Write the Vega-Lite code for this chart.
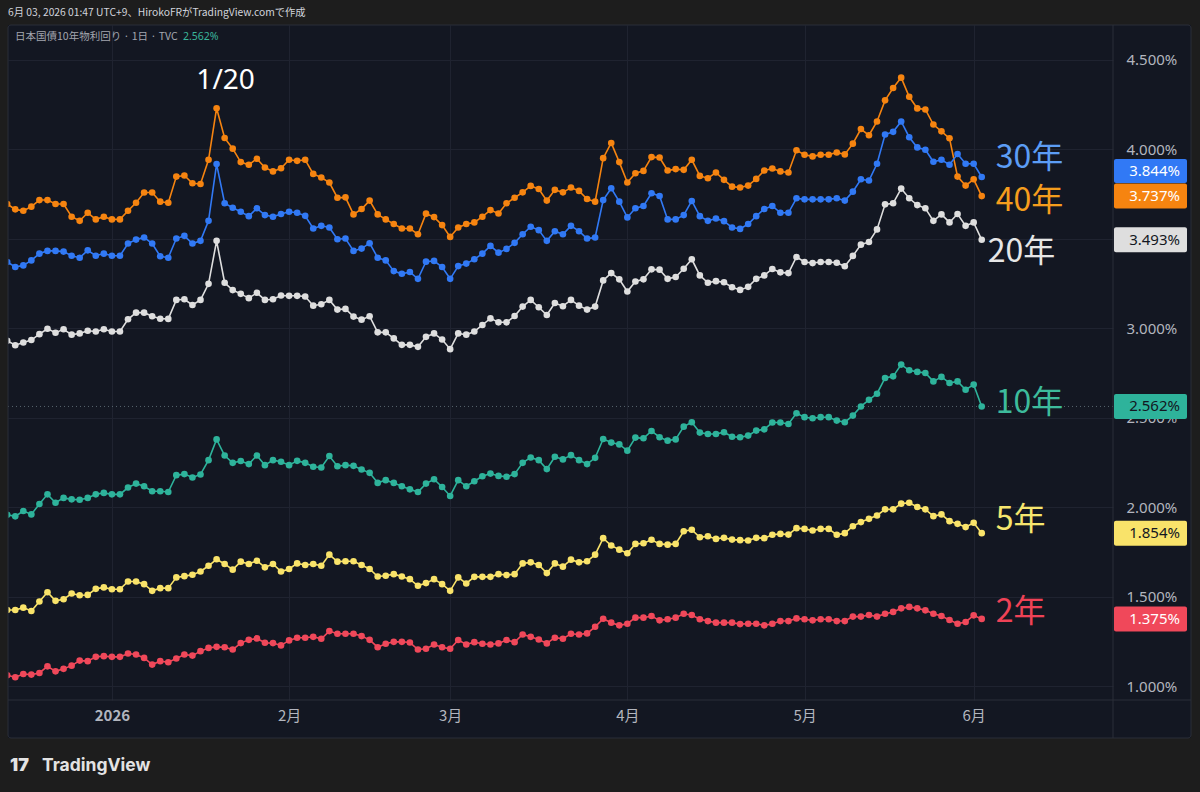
{
  "$schema": "https://vega.github.io/schema/vega-lite/v6.json",
  "width": 1105,
  "height": 675,
  "autosize": {"type": "none"},
  "padding": {"left": 8, "top": 25, "right": 87, "bottom": 92},
  "background": "#131722",
  "config": {
    "view": {"stroke": null},
    "locale": {"number": {"decimal": ".", "thousands": ",", "grouping": [3], "currency": ["", "%"]}},
    "text": {"font": "Noto Sans"}
  },
  "layer": [
    {
      "data": {
        "values": [
          {"i":0,"2年":1.060,"5年":1.425,"10年":1.957,"20年":2.929,"30年":3.369,"40年":3.693},
          {"i":1,"2年":1.049,"5年":1.425,"10年":1.948,"20年":2.904,"30年":3.341,"40年":3.663},
          {"i":2,"2年":1.067,"5年":1.438,"10年":1.978,"20年":2.919,"30年":3.350,"40年":3.655},
          {"i":3,"2年":1.064,"5年":1.419,"10年":1.959,"20年":2.933,"30年":3.378,"40年":3.678},
          {"i":4,"2年":1.073,"5年":1.472,"10年":2.017,"20年":2.966,"30年":3.416,"40年":3.715},
          {"i":5,"2年":1.110,"5年":1.524,"10年":2.071,"20年":2.996,"30年":3.431,"40年":3.715},
          {"i":6,"2年":1.082,"5年":1.476,"10年":2.024,"20年":2.974,"30年":3.431,"40年":3.693},
          {"i":7,"2年":1.096,"5年":1.485,"10年":2.051,"20年":2.993,"30年":3.427,"40年":3.693},
          {"i":8,"2年":1.114,"5年":1.517,"10年":2.043,"20年":2.963,"30年":3.404,"40年":3.622},
          {"i":9,"2年":1.142,"5年":1.507,"10年":2.041,"20年":2.970,"30年":3.393,"40年":3.599},
          {"i":10,"2年":1.139,"5年":1.509,"10年":2.051,"20年":2.985,"30年":3.434,"40年":3.644},
          {"i":11,"2年":1.163,"5年":1.543,"10年":2.071,"20年":2.981,"30年":3.404,"40年":3.607},
          {"i":12,"2年":1.167,"5年":1.551,"10年":2.079,"20年":2.993,"30年":3.416,"40年":3.622},
          {"i":13,"2年":1.163,"5年":1.541,"10年":2.071,"20年":2.981,"30年":3.404,"40年":3.607},
          {"i":14,"2年":1.163,"5年":1.541,"10年":2.071,"20年":2.981,"30年":3.404,"40年":3.607},
          {"i":15,"2年":1.182,"5年":1.584,"10年":2.109,"20年":3.049,"30年":3.472,"40年":3.655},
          {"i":16,"2年":1.176,"5年":1.584,"10年":2.131,"20年":3.086,"30年":3.494,"40年":3.700},
          {"i":17,"2年":1.157,"5年":1.569,"10年":2.116,"20年":3.086,"30年":3.506,"40年":3.757},
          {"i":18,"2年":1.120,"5年":1.532,"10年":2.088,"20年":3.066,"30年":3.472,"40年":3.757},
          {"i":19,"2年":1.139,"5年":1.547,"10年":2.088,"20年":3.052,"30年":3.401,"40年":3.706},
          {"i":20,"2年":1.133,"5年":1.547,"10年":2.084,"20年":3.051,"30年":3.393,"40年":3.700},
          {"i":21,"2年":1.154,"5年":1.607,"10年":2.178,"20年":3.157,"30年":3.500,"40年":3.846},
          {"i":22,"2年":1.176,"5年":1.614,"10年":2.184,"20年":3.161,"30年":3.515,"40年":3.852},
          {"i":23,"2年":1.170,"5年":1.622,"10年":2.165,"20年":3.129,"30年":3.472,"40年":3.809},
          {"i":24,"2年":1.195,"5年":1.640,"10年":2.182,"20年":3.157,"30年":3.487,"40年":3.805},
          {"i":25,"2年":1.213,"5年":1.672,"10年":2.262,"20年":3.247,"30年":3.599,"40年":3.940},
          {"i":26,"2年":1.219,"5年":1.708,"10年":2.378,"20年":3.487,"30年":3.916,"40年":4.228},
          {"i":27,"2年":1.217,"5年":1.682,"10年":2.288,"20年":3.253,"30年":3.697,"40年":4.062},
          {"i":28,"2年":1.204,"5年":1.650,"10年":2.247,"20年":3.212,"30年":3.672,"40年":4.002},
          {"i":29,"2年":1.240,"5年":1.695,"10年":2.257,"20年":3.191,"30年":3.650,"40年":3.927},
          {"i":30,"2年":1.258,"5年":1.682,"10年":2.240,"20年":3.167,"30年":3.625,"40年":3.912},
          {"i":31,"2年":1.266,"5年":1.700,"10年":2.288,"20年":3.197,"30年":3.669,"40年":3.946},
          {"i":32,"2年":1.242,"5年":1.663,"10年":2.234,"20年":3.157,"30年":3.631,"40年":3.897},
          {"i":33,"2年":1.240,"5年":1.682,"10年":2.262,"20年":3.161,"30年":3.622,"40年":3.875},
          {"i":34,"2年":1.227,"5年":1.640,"10年":2.253,"20年":3.182,"30年":3.637,"40年":3.893},
          {"i":35,"2年":1.255,"5年":1.654,"10年":2.234,"20年":3.180,"30年":3.650,"40年":3.940},
          {"i":36,"2年":1.270,"5年":1.685,"10年":2.258,"20年":3.180,"30年":3.644,"40年":3.934},
          {"i":37,"2年":1.270,"5年":1.676,"10年":2.247,"20年":3.176,"30年":3.627,"40年":3.940},
          {"i":38,"2年":1.275,"5年":1.682,"10年":2.225,"20年":3.125,"30年":3.556,"40年":3.861},
          {"i":39,"2年":1.264,"5年":1.672,"10年":2.221,"20年":3.133,"30年":3.571,"40年":3.841},
          {"i":40,"2年":1.307,"5年":1.734,"10年":2.285,"20年":3.157,"30年":3.562,"40年":3.813},
          {"i":41,"2年":1.292,"5年":1.695,"10年":2.228,"20年":3.103,"30年":3.496,"40年":3.728},
          {"i":42,"2年":1.292,"5年":1.697,"10年":2.234,"20年":3.107,"30年":3.500,"40年":3.730},
          {"i":43,"2年":1.292,"5年":1.697,"10年":2.230,"20年":3.064,"30年":3.431,"40年":3.635},
          {"i":44,"2年":1.279,"5年":1.676,"10年":2.210,"20年":3.047,"30年":3.444,"40年":3.665},
          {"i":45,"2年":1.258,"5年":1.654,"10年":2.191,"20年":3.066,"30年":3.474,"40年":3.712},
          {"i":46,"2年":1.217,"5年":1.612,"10年":2.135,"20年":2.976,"30年":3.393,"40年":3.635},
          {"i":47,"2年":1.236,"5年":1.616,"10年":2.150,"20年":2.976,"30年":3.378,"40年":3.607},
          {"i":48,"2年":1.247,"5年":1.625,"10年":2.135,"20年":2.942,"30年":3.318,"40年":3.581},
          {"i":49,"2年":1.247,"5年":1.612,"10年":2.116,"20年":2.906,"30年":3.303,"40年":3.556},
          {"i":50,"2年":1.243,"5年":1.597,"10年":2.099,"20年":2.906,"30年":3.313,"40年":3.556},
          {"i":51,"2年":1.204,"5年":1.560,"10年":2.084,"20年":2.895,"30年":3.275,"40年":3.524},
          {"i":52,"2年":1.208,"5年":1.575,"10年":2.131,"20年":2.951,"30年":3.371,"40年":3.639},
          {"i":53,"2年":1.232,"5年":1.597,"10年":2.155,"20年":2.970,"30年":3.375,"40年":3.620},
          {"i":54,"2年":1.217,"5年":1.569,"10年":2.112,"20年":2.936,"30年":3.341,"40年":3.575},
          {"i":55,"2年":1.208,"5年":1.532,"10年":2.062,"20年":2.882,"30年":3.275,"40年":3.509},
          {"i":56,"2年":1.257,"5年":1.607,"10年":2.150,"20年":2.970,"30年":3.346,"40年":3.562},
          {"i":57,"2年":1.232,"5年":1.573,"10年":2.116,"20年":2.963,"30年":3.360,"40年":3.581},
          {"i":58,"2年":1.245,"5年":1.610,"10年":2.144,"20年":2.981,"30年":3.384,"40年":3.590},
          {"i":59,"2年":1.236,"5年":1.610,"10年":2.172,"20年":3.017,"30年":3.416,"40年":3.622},
          {"i":60,"2年":1.232,"5年":1.610,"10年":2.187,"20年":3.054,"30年":3.459,"40年":3.659},
          {"i":61,"2年":1.238,"5年":1.625,"10年":2.174,"20年":3.032,"30年":3.421,"40年":3.640},
          {"i":62,"2年":1.257,"5年":1.620,"10年":2.169,"20年":3.032,"30年":3.442,"40年":3.697},
          {"i":63,"2年":1.245,"5年":1.625,"10年":2.184,"20年":3.067,"30年":3.476,"40年":3.728},
          {"i":64,"2年":1.288,"5年":1.685,"10年":2.247,"20年":3.120,"30年":3.524,"40年":3.758},
          {"i":65,"2年":1.275,"5年":1.691,"10年":2.277,"20年":3.157,"30年":3.566,"40年":3.794},
          {"i":66,"2年":1.260,"5年":1.676,"10年":2.262,"20年":3.116,"30年":3.547,"40年":3.777},
          {"i":67,"2年":1.238,"5年":1.631,"10年":2.212,"20年":3.073,"30年":3.487,"40年":3.712},
          {"i":68,"2年":1.270,"5年":1.685,"10年":2.281,"20年":3.140,"30年":3.541,"40年":3.772},
          {"i":69,"2年":1.264,"5年":1.667,"10年":2.266,"20年":3.122,"30年":3.524,"40年":3.758},
          {"i":70,"2年":1.292,"5年":1.706,"10年":2.290,"20年":3.157,"30年":3.571,"40年":3.785},
          {"i":71,"2年":1.288,"5年":1.691,"10年":2.262,"20年":3.125,"30年":3.541,"40年":3.766},
          {"i":72,"2年":1.294,"5年":1.697,"10年":2.240,"20年":3.103,"30年":3.500,"40年":3.721},
          {"i":73,"2年":1.331,"5年":1.734,"10年":2.275,"20年":3.120,"30年":3.506,"40年":3.706},
          {"i":74,"2年":1.376,"5年":1.826,"10年":2.380,"20年":3.266,"30年":3.715,"40年":3.949},
          {"i":75,"2年":1.354,"5年":1.785,"10年":2.360,"20年":3.307,"30年":3.781,"40年":4.034},
          {"i":76,"2年":1.339,"5年":1.762,"10年":2.350,"20年":3.272,"30年":3.706,"40年":3.927},
          {"i":77,"2年":1.348,"5年":1.742,"10年":2.315,"20年":3.204,"30年":3.618,"40年":3.813},
          {"i":78,"2年":1.382,"5年":1.794,"10年":2.388,"20年":3.260,"30年":3.669,"40年":3.865},
          {"i":79,"2年":1.382,"5年":1.798,"10年":2.384,"20年":3.272,"30年":3.682,"40年":3.878},
          {"i":80,"2年":1.391,"5年":1.817,"10年":2.425,"20年":3.328,"30年":3.753,"40年":3.955},
          {"i":81,"2年":1.367,"5年":1.794,"10年":2.390,"20年":3.326,"30年":3.738,"40年":3.953},
          {"i":82,"2年":1.373,"5年":1.790,"10年":2.371,"20年":3.275,"30年":3.607,"40年":3.880},
          {"i":83,"2年":1.382,"5年":1.794,"10年":2.378,"20年":3.285,"30年":3.607,"40年":3.888},
          {"i":84,"2年":1.404,"5年":1.865,"10年":2.449,"20年":3.331,"30年":3.631,"40年":3.884},
          {"i":85,"2年":1.397,"5年":1.873,"10年":2.474,"20年":3.384,"30年":3.710,"40年":3.940},
          {"i":86,"2年":1.373,"5年":1.831,"10年":2.416,"20年":3.294,"30年":3.625,"40年":3.850},
          {"i":87,"2年":1.363,"5年":1.837,"10年":2.408,"20年":3.253,"30年":3.599,"40年":3.837},
          {"i":88,"2年":1.354,"5年":1.822,"10年":2.408,"20年":3.262,"30年":3.612,"40年":3.869},
          {"i":89,"2年":1.354,"5年":1.828,"10年":2.418,"20年":3.256,"30年":3.597,"40年":3.828},
          {"i":90,"2年":1.354,"5年":1.818,"10年":2.393,"20年":3.228,"30年":3.562,"40年":3.790},
          {"i":91,"2年":1.346,"5年":1.815,"10年":2.390,"20年":3.213,"30年":3.554,"40年":3.785},
          {"i":92,"2年":1.348,"5年":1.813,"10年":2.399,"20年":3.230,"30年":3.581,"40年":3.796},
          {"i":93,"2年":1.348,"5年":1.828,"10年":2.427,"20年":3.275,"30年":3.625,"40年":3.833},
          {"i":94,"2年":1.339,"5年":1.826,"10年":2.434,"20年":3.294,"30年":3.665,"40年":3.880},
          {"i":95,"2年":1.348,"5年":1.845,"10年":2.472,"20年":3.330,"30年":3.682,"40年":3.891},
          {"i":96,"2年":1.363,"5年":1.850,"10年":2.472,"20年":3.311,"30年":3.644,"40年":3.875},
          {"i":97,"2年":1.363,"5年":1.846,"10年":2.464,"20年":3.307,"30年":3.644,"40年":3.869},
          {"i":98,"2年":1.378,"5年":1.882,"10年":2.524,"20年":3.397,"30年":3.725,"40年":3.993},
          {"i":99,"2年":1.373,"5年":1.878,"10年":2.502,"20年":3.369,"30年":3.719,"40年":3.968},
          {"i":100,"2年":1.367,"5年":1.869,"10年":2.496,"20年":3.363,"30年":3.719,"40年":3.959},
          {"i":101,"2年":1.373,"5年":1.878,"10年":2.502,"20年":3.369,"30年":3.719,"40年":3.968},
          {"i":102,"2年":1.373,"5年":1.878,"10年":2.502,"20年":3.369,"30年":3.719,"40年":3.968},
          {"i":103,"2年":1.363,"5年":1.845,"10年":2.483,"20年":3.365,"30年":3.725,"40年":3.981},
          {"i":104,"2年":1.363,"5年":1.854,"10年":2.474,"20年":3.345,"30年":3.712,"40年":3.970},
          {"i":105,"2年":1.388,"5年":1.893,"10年":2.511,"20年":3.403,"30年":3.762,"40年":4.030},
          {"i":106,"2年":1.388,"5年":1.916,"10年":2.562,"20年":3.466,"30年":3.831,"40年":4.112},
          {"i":107,"2年":1.397,"5年":1.934,"10年":2.599,"20年":3.481,"30年":3.824,"40年":4.077},
          {"i":108,"2年":1.388,"5年":1.953,"10年":2.633,"20年":3.551,"30年":3.918,"40年":4.154},
          {"i":109,"2年":1.404,"5年":1.987,"10年":2.721,"20年":3.691,"30年":4.081,"40年":4.272},
          {"i":110,"2年":1.414,"5年":1.987,"10年":2.730,"20年":3.697,"30年":4.096,"40年":4.341},
          {"i":111,"2年":1.434,"5年":2.019,"10年":2.796,"20年":3.779,"30年":4.154,"40年":4.399},
          {"i":112,"2年":1.442,"5年":2.024,"10年":2.764,"20年":3.725,"30年":4.066,"40年":4.292},
          {"i":113,"2年":1.434,"5年":2.000,"10年":2.755,"20年":3.687,"30年":4.009,"40年":4.227},
          {"i":114,"2年":1.423,"5年":1.987,"10年":2.749,"20年":3.669,"30年":3.996,"40年":4.221},
          {"i":115,"2年":1.404,"5年":1.949,"10年":2.702,"20年":3.599,"30年":3.929,"40年":4.137},
          {"i":116,"2年":1.391,"5年":1.959,"10年":2.727,"20年":3.635,"30年":3.940,"40年":4.099},
          {"i":117,"2年":1.369,"5年":1.921,"10年":2.693,"20年":3.590,"30年":3.912,"40年":4.060},
          {"i":118,"2年":1.348,"5年":1.906,"10年":2.702,"20年":3.637,"30年":3.972,"40年":3.846},
          {"i":119,"2年":1.358,"5年":1.888,"10年":2.655,"20年":3.571,"30年":3.918,"40年":3.796},
          {"i":120,"2年":1.395,"5年":1.912,"10年":2.684,"20年":3.590,"30年":3.918,"40年":3.831},
          {"i":121,"2年":1.375,"5年":1.854,"10年":2.562,"20年":3.493,"30年":3.844,"40年":3.737}
        ]
      },
      "transform": [{"fold": ["40年", "30年", "20年", "10年", "5年", "2年"], "as": ["s", "v"]}],
      "layer": [
        {
          "transform": [{"filter": "datum.i === 121 && datum.s === '10年'"}],
          "mark": {"type": "rule", "color": "#58656e", "strokeWidth": 1, "strokeDash": [1, 3]},
          "encoding": {"y": {"field": "v", "type": "quantitative"}}
        },
        {
          "mark": {"type": "line", "strokeWidth": 1.6},
          "encoding": {
            "x": {
              "field": "i",
              "type": "quantitative",
              "scale": {"domain": [0.1, 137.3], "nice": false, "zero": false},
              "axis": {
                "title": null,
                "values": [13, 35, 55, 77, 99, 120],
                "labelExpr": "['2026','2月','3月','4月','5月','6月'][indexof([13,35,55,77,99,120], datum.value)]",
                "labelFont": "Noto Sans CJK JP",
                "labelFontSize": 15,
                "labelColor": "#b2b5be",
                "labelFontWeight": {"condition": {"test": "datum.value === 13", "value": "bold"}, "value": "normal"},
                "labelPadding": 8,
                "ticks": false,
                "domain": false,
                "grid": true,
                "gridColor": "#1f2330",
                "gridWidth": 1
              }
            },
            "y": {
              "field": "v",
              "type": "quantitative",
              "scale": {"domain": [0.922, 4.693], "nice": false, "zero": false},
              "axis": {
                "title": null,
                "orient": "right",
                "values": [1, 1.5, 2, 2.5, 3, 3.5, 4, 4.5],
                "format": "$.3f",
                "labelExpr": "datum.value === 3.5 ? '' : datum.label",
                "labelFont": "Noto Sans",
                "labelFontSize": 15,
                "labelColor": "#b2b5be",
                "labelPadding": 13,
                "labelAlign": "left",
                "ticks": false,
                "domain": false,
                "grid": true,
                "gridColor": "#1f2330",
                "gridWidth": 1
              }
            },
            "color": {
              "field": "s",
              "type": "nominal",
              "legend": null,
              "scale": {
                "domain": ["30年", "40年", "20年", "10年", "5年", "2年"],
                "range": ["#3179f5", "#f68410", "#dedede", "#2eb39b", "#f9e36a", "#f0485a"]
              }
            }
          }
        },
        {
          "mark": {"type": "circle", "size": 44, "opacity": 1},
          "encoding": {
            "x": {"field": "i", "type": "quantitative"},
            "y": {"field": "v", "type": "quantitative"},
            "color": {"field": "s", "type": "nominal", "legend": null}
          }
        },
        {
          "transform": [{"filter": "datum.i === 26 && datum.s === '40年'"}],
          "mark": {"type": "text", "align": "center", "baseline": "middle", "dx": 9, "dy": -27, "fontSize": 28, "color": "#ffffff", "font": "Noto Sans"},
          "encoding": {
            "x": {"field": "i", "type": "quantitative"},
            "y": {"field": "v", "type": "quantitative"},
            "text": {"value": "1/20"}
          }
        },
        {
          "transform": [{"filter": "datum.i === 121 && datum.s === '30年'"}],
          "mark": {"type": "rect", "xOffset": 1, "x2Offset": 74, "yOffset": -18, "y2Offset": 6, "cornerRadius": 2},
          "encoding": {
            "x": {"value": "width"},
            "x2": {"value": "width"},
            "y": {"field": "v", "type": "quantitative"},
            "y2": {"field": "v"},
            "color": {"field": "s", "type": "nominal", "legend": null}
          }
        },
        {
          "transform": [{"filter": "datum.i === 121 && datum.s !== '30年'"}],
          "mark": {"type": "rect", "xOffset": 1, "x2Offset": 74, "yOffset": -12.5, "y2Offset": 12.5, "cornerRadius": 2},
          "encoding": {
            "x": {"value": "width"},
            "x2": {"value": "width"},
            "y": {"field": "v", "type": "quantitative"},
            "y2": {"field": "v"},
            "color": {"field": "s", "type": "nominal", "legend": null}
          }
        },
        {
          "transform": [{"filter": "datum.i === 121"}],
          "mark": {
            "type": "text",
            "align": "right",
            "baseline": "middle",
            "xOffset": 67,
            "fontSize": 15,
            "font": "Noto Sans",
            "dy": {"expr": "datum.s === '30年' ? -6 : 0"}
          },
          "encoding": {
            "x": {"value": "width"},
            "y": {"field": "v", "type": "quantitative"},
            "text": {"field": "v", "type": "quantitative", "format": "$.3f"},
            "color": {
              "condition": {"test": "datum.s === '20年' || datum.s === '10年' || datum.s === '5年'", "value": "#131722"},
              "value": "#ffffff"
            }
          }
        },
        {
          "transform": [{"filter": "datum.i === 121"}],
          "mark": {
            "type": "text",
            "align": "left",
            "baseline": "middle",
            "fontSize": 32,
            "font": "Noto Sans CJK JP",
            "dx": {"expr": "datum.s === '20年' ? 6 : 14"},
            "dy": {"expr": "datum.s === '30年' ? -19 : datum.s === '40年' ? 5 : datum.s === '20年' ? 12 : datum.s === '10年' ? -3 : datum.s === '5年' ? -13 : -7"}
          },
          "encoding": {
            "x": {"field": "i", "type": "quantitative"},
            "y": {"field": "v", "type": "quantitative"},
            "text": {"field": "s"},
            "color": {
              "condition": [
                {"test": "datum.s === '30年'", "value": "#5c9df5"},
                {"test": "datum.s === '40年'", "value": "#f59d1d"},
                {"test": "datum.s === '20年'", "value": "#e6e6e6"},
                {"test": "datum.s === '10年'", "value": "#3dbb9c"},
                {"test": "datum.s === '5年'", "value": "#f6e66e"}
              ],
              "value": "#ef4256"
            }
          }
        }
      ]
    },
    {
      "data": {"values": [{}]},
      "mark": {"type": "rule", "color": "#2a2e39", "strokeWidth": 1},
      "encoding": {"x": {"value": "width"}, "y": {"value": 0}, "y2": {"value": 713}}
    },
    {
      "data": {"values": [{}]},
      "mark": {"type": "rule", "color": "#2a2e39", "strokeWidth": 1},
      "encoding": {"y": {"value": "height"}, "x": {"value": 0}, "x2": {"value": 1183}}
    },
    {
      "data": {"values": [{}]},
      "mark": {"type": "rect", "filled": false, "stroke": "#1d1d1d", "strokeWidth": 120},
      "encoding": {"x": {"value": -60}, "x2": {"value": 1243}, "y": {"value": -60}, "y2": {"value": 773}}
    },
    {
      "data": {"values": [{}]},
      "mark": {"type": "rect", "filled": false, "stroke": "#2a2e39", "strokeWidth": 1, "cornerRadius": 3},
      "encoding": {"x": {"value": 0}, "x2": {"value": 1183}, "y": {"value": 0}, "y2": {"value": 713}}
    },
    {
      "data": {"values": [{}]},
      "mark": {"type": "text", "align": "left", "baseline": "middle", "fontSize": 10.3, "font": "Noto Sans CJK JP", "color": "#d1d4dc"},
      "encoding": {"x": {"value": 0}, "y": {"value": -12}, "text": {"value": "6月 03, 2026 01:47 UTC+9、HirokoFRがTradingView.comで作成"}}
    },
    {
      "data": {"values": [{}]},
      "mark": {"type": "text", "align": "left", "baseline": "middle", "fontSize": 10.5, "font": "Noto Sans CJK JP", "color": "#a3a6af"},
      "encoding": {"x": {"value": 7}, "y": {"value": 12}, "text": {"value": "日本国債10年物利回り · 1日 · TVC"}}
    },
    {
      "data": {"values": [{}]},
      "mark": {"type": "text", "align": "left", "baseline": "middle", "fontSize": 10.5, "font": "Noto Sans", "color": "#3ab59a"},
      "encoding": {"x": {"value": 175}, "y": {"value": 12}, "text": {"value": "2.562%"}}
    },
    {
      "data": {"values": [{}]},
      "mark": {"type": "text", "align": "left", "baseline": "middle", "fontSize": 18, "fontWeight": 900, "font": "Inter", "color": "#e3e3e3"},
      "encoding": {"x": {"value": 2}, "y": {"value": 741}, "text": {"value": "17"}}
    },
    {
      "data": {"values": [{}]},
      "mark": {"type": "text", "align": "left", "baseline": "middle", "fontSize": 17.5, "fontWeight": "bold", "font": "Inter", "color": "#e3e3e3"},
      "encoding": {"x": {"value": 34}, "y": {"value": 741}, "text": {"value": "TradingView"}}
    }
  ]
}
